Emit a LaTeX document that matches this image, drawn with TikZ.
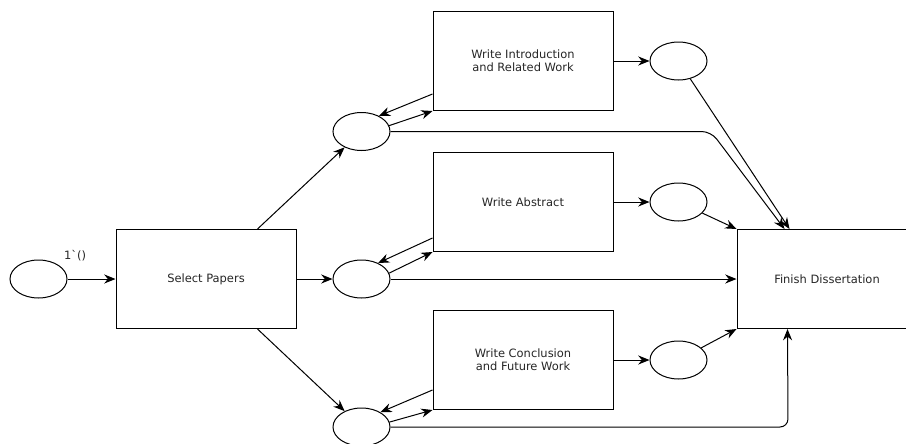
\documentclass[tikz,border=0pt]{standalone}
\usepackage{fontspec}
\setmainfont{DejaVu Sans}
\newfontfamily\tokenfont{DejaVu Sans}[Ligatures=TeXOff]
\usetikzlibrary{arrows.meta,calc,shapes.geometric}

\begin{document}
\begin{tikzpicture}[
  x=0.75pt, y=-0.75pt,
  every node/.style={font=\fontsize{8.6}{9.75}\selectfont, text=black!85},
  place/.style={draw, line width=0.75pt, ellipse, inner sep=0pt,
                minimum width=42.75pt, minimum height=28.5pt},
  trans/.style={draw, line width=0.75pt, rectangle, inner sep=0pt,
                minimum width=135pt, minimum height=74.25pt, align=center},
  arr/.style={line width=0.75pt, -{Stealth[length=8.5pt,width=6.8pt,inset=2.8pt]}}
]
\clip (0,0) rectangle (906,443);
\fill[white] (0,0) rectangle (906,443);

% places
\node[place] (p0) at (38.5,279) {};
\node[place] (e1) at (361.5,131.5) {};
\node[place] (e2) at (361.5,279) {};
\node[place] (e3) at (361.5,427) {};
\node[place] (r1) at (678.5,61) {};
\node[place] (r2) at (678.5,202) {};
\node[place] (r3) at (678.5,360) {};

% transitions
\node[trans] (sp) at (206,279) {Select Papers};
\node[trans] (wi) at (523,61) {Write Introduction\\ and Related Work};
\node[trans] (wa) at (523,202) {Write Abstract};
\node[trans] (wc) at (523,360) {Write Conclusion\\ and Future Work};
\node[trans] (fd) at (827,279) {Finish Dissertation};

% initial marking
\node[font=\tokenfont\fontsize{8.6}{9.75}\selectfont] (tok) at (75,256) {1`()};

% bends of the long arcs
\coordinate (c1) at (711,131.5);
\coordinate (c2) at (788,427);

% arcs
\draw[arr] (p0) -- (sp);
\draw[arr] ($(sp.north west)+(142,0)$) -- (e1);
\draw[arr] (sp) -- (e2);
\draw[arr] ($(sp.south west)+(142,0)$) -- (e3);

\draw[arr] ($(wi.north west)+(0,83)$) -- (e1.42);
\draw[arr] (e1.12) -- (wi.south west);
\draw[arr] ($(wa.north west)+(0,86)$) -- (e2.44);
\draw[arr] (e2.12) -- (wa.south west);
\draw[arr] ($(wc.north west)+(0,80)$) -- (e3.38);
\draw[arr] (e3.10) -- (wc.south west);

\draw[arr] (wi) -- (r1);
\draw[arr] (wa) -- (r2);
\draw[arr] (wc) -- (r3);

\draw[arr] (r1) -- ($(fd.north west)+(53,0)$);
\draw[arr] (r2) -- (fd.north west);
\draw[arr] (r3) -- (fd.south west);
\draw[arr] (e2) -- (fd);
\draw[arr, rounded corners=7pt] (e1) -- (c1) -- ($(fd.north west)+(48,0)$);
\draw[arr, rounded corners=6pt] (e3) -- (c2) -- ($(fd.south west)+(51,0)$);
\end{tikzpicture}
\end{document}
